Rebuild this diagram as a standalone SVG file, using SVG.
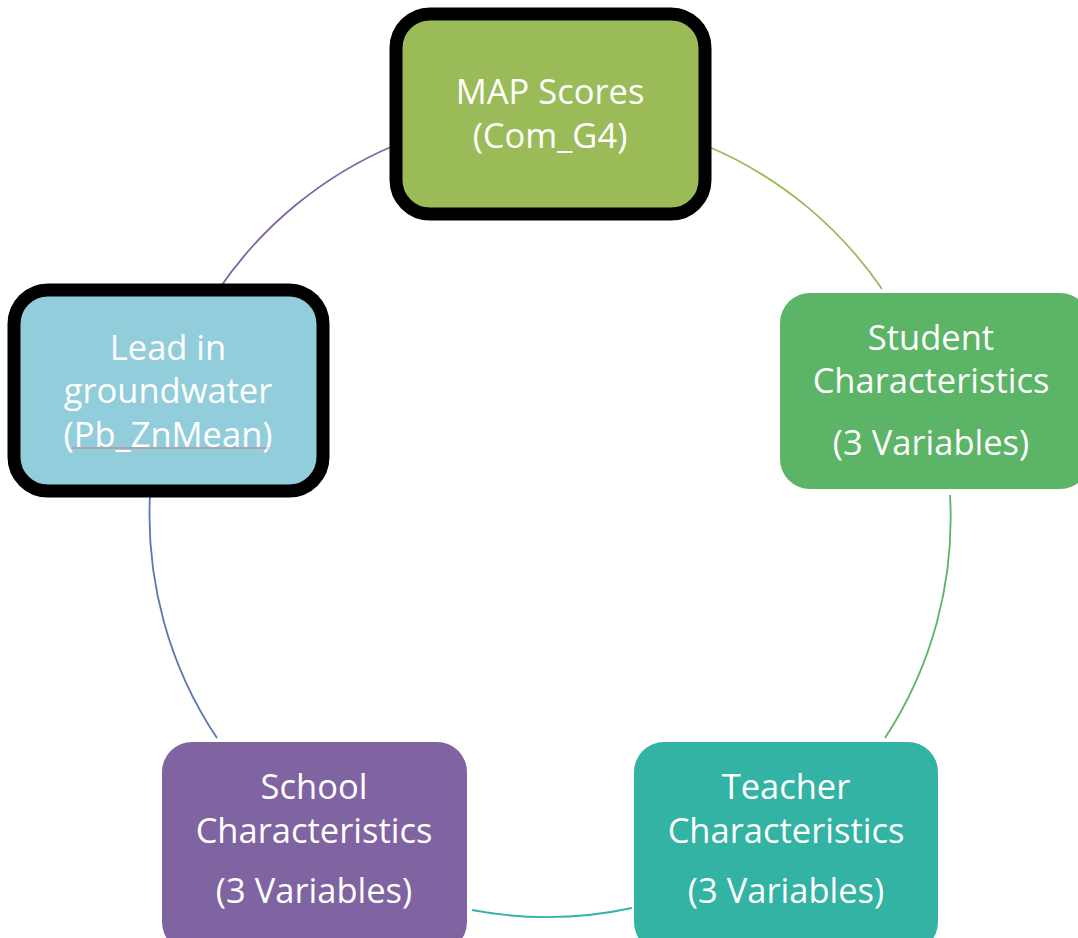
<svg xmlns="http://www.w3.org/2000/svg" width="1078" height="938" viewBox="0 0 1078 938">
<style>
.lbl{font-family:"Open Sans","Liberation Sans",sans-serif;font-size:34.5px;fill:#ffffff;text-anchor:middle}
.arc{fill:none;stroke-width:1.8}
</style>
<rect width="1078" height="938" fill="#ffffff"/>
<g id="connectors">
<path class="arc" stroke="#8064A2" d="M219,289 A401,401 0 0 1 393,146"/>
<path class="arc" stroke="#9BBB59" d="M707,146 A401,401 0 0 1 882,289"/>
<path class="arc" stroke="#5CB466" d="M950,495 A401,401 0 0 1 885,738"/>
<path class="arc" stroke="#33B3A3" d="M632,908 A401,401 0 0 1 472,910"/>
<path class="arc" stroke="#5B78B0" d="M217,738 A401,401 0 0 1 150,495"/>
</g>
<g id="node-map">
<rect x="396" y="14" width="309" height="200" rx="34" fill="#9BBB59" stroke="#000000" stroke-width="13"/>
<text class="lbl" x="550" y="104">MAP Scores</text>
<text class="lbl" x="550" y="148">(Com_G4)</text>
</g>
<g id="node-student">
<rect x="780" y="293" width="310" height="196" rx="30" fill="#5CB466"/>
<text class="lbl" x="931" y="350">Student</text>
<text class="lbl" x="931" y="393">Characteristics</text>
<text class="lbl" x="931" y="455">(3 Variables)</text>
</g>
<g id="node-teacher">
<rect x="634" y="742" width="304" height="210" rx="30" fill="#33B3A3"/>
<text class="lbl" x="786" y="799">Teacher</text>
<text class="lbl" x="786" y="843">Characteristics</text>
<text class="lbl" x="786" y="903">(3 Variables)</text>
</g>
<g id="node-school">
<rect x="162" y="742" width="305" height="210" rx="30" fill="#8064A2"/>
<text class="lbl" x="314" y="799">School</text>
<text class="lbl" x="314" y="843">Characteristics</text>
<text class="lbl" x="314" y="903">(3 Variables)</text>
</g>
<g id="node-lead">
<rect x="14" y="290" width="309" height="201" rx="34" fill="#92CDDC" stroke="#000000" stroke-width="13"/>
<text class="lbl" x="168" y="360">Lead in</text>
<text class="lbl" x="168" y="403">groundwater</text>
<text class="lbl" x="168" y="447">(Pb_ZnMean)</text>
<line x1="72" y1="448" x2="268" y2="448" stroke="#E06060" stroke-width="0.8"/>
</g>
</svg>
